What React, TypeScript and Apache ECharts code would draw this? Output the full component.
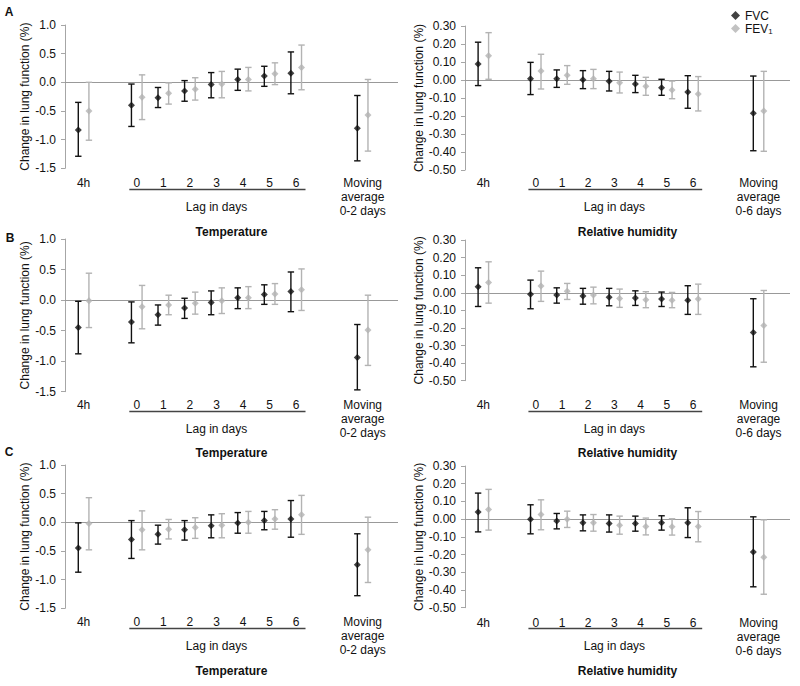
import React, { useEffect, useRef } from "react";
import * as echarts from "echarts";

// ---- Data ----
const X_POS = [-2, 0, 1, 2, 3, 4, 5, 6, 8.5];
const X_LABELS_TEMP = ["4h", "0", "1", "2", "3", "4", "5", "6", "Moving\naverage\n0-2 days"];
const X_LABELS_RH = ["4h", "0", "1", "2", "3", "4", "5", "6", "Moving\naverage\n0-6 days"];
const Y_TICKS_TEMP = [-1.5, -1.0, -0.5, 0.0, 0.5, 1.0];
const Y_TICKS_RH = [-0.5, -0.4, -0.3, -0.2, -0.1, 0.0, 0.1, 0.2, 0.3];

// Panel A – Temperature
const tA_fvc = [-0.83, -0.40, -0.27, -0.15, -0.04, 0.05, 0.11, 0.16, -0.80];
const tA_fvcLo = [-1.29, -0.77, -0.44, -0.33, -0.27, -0.14, -0.07, -0.20, -1.37];
const tA_fvcHi = [-0.35, -0.03, -0.09, 0.03, 0.17, 0.23, 0.28, 0.53, -0.23];
const tA_fev = [-0.50, -0.26, -0.19, -0.12, -0.03, 0.05, 0.15, 0.26, -0.57];
const tA_fevLo = [-1.01, -0.65, -0.38, -0.31, -0.27, -0.15, -0.04, -0.13, -1.20];
const tA_fevHi = [0.0, 0.13, -0.01, 0.08, 0.19, 0.26, 0.34, 0.65, 0.05];
// Panel A – Relative humidity
const hA_fvc = [0.089, 0.007, 0.007, 0.002, -0.007, -0.022, -0.043, -0.067, -0.185];
const hA_fvcLo = [-0.031, -0.081, -0.041, -0.048, -0.061, -0.070, -0.085, -0.157, -0.393];
const hA_fvcHi = [0.210, 0.098, 0.056, 0.052, 0.048, 0.026, 0.004, 0.024, 0.022];
const hA_fev = [0.135, 0.050, 0.026, 0.007, -0.015, -0.035, -0.056, -0.078, -0.172];
const hA_fevLo = [0.004, -0.050, -0.024, -0.048, -0.072, -0.085, -0.104, -0.172, -0.396];
const hA_fevHi = [0.263, 0.143, 0.080, 0.059, 0.044, 0.015, -0.006, 0.019, 0.048];
// Panel B – Temperature
const tB_fvc = [-0.45, -0.36, -0.24, -0.13, -0.04, 0.04, 0.09, 0.14, -0.94];
const tB_fvcLo = [-0.88, -0.70, -0.41, -0.30, -0.24, -0.14, -0.07, -0.19, -1.47];
const tB_fvcHi = [-0.02, -0.03, -0.08, 0.03, 0.15, 0.20, 0.25, 0.46, -0.40];
const tB_fev = [-0.01, -0.11, -0.08, -0.05, -0.01, 0.04, 0.10, 0.17, -0.49];
const tB_fevLo = [-0.45, -0.47, -0.24, -0.23, -0.22, -0.14, -0.07, -0.17, -1.07];
const tB_fevHi = [0.44, 0.24, 0.08, 0.13, 0.20, 0.22, 0.27, 0.51, 0.08];
// Panel B – Relative humidity
const hB_fvc = [0.034, -0.009, -0.013, -0.019, -0.025, -0.030, -0.036, -0.042, -0.226];
const hB_fvcLo = [-0.078, -0.091, -0.059, -0.065, -0.074, -0.072, -0.078, -0.123, -0.421];
const hB_fvcHi = [0.142, 0.072, 0.028, 0.025, 0.025, 0.011, 0.004, 0.040, -0.034];
const hB_fev = [0.059, 0.038, 0.008, -0.013, -0.032, -0.040, -0.042, -0.036, -0.186];
const hB_fevLo = [-0.059, -0.049, -0.038, -0.063, -0.083, -0.085, -0.085, -0.123, -0.395];
const hB_fevHi = [0.176, 0.123, 0.053, 0.032, 0.021, 0.006, 0.002, 0.049, 0.013];
// Panel C – Temperature
const tC_fvc = [-0.45, -0.30, -0.21, -0.13, -0.06, -0.01, 0.03, 0.06, -0.74];
const tC_fvcLo = [-0.87, -0.63, -0.38, -0.31, -0.27, -0.19, -0.13, -0.26, -1.28];
const tC_fvcHi = [-0.01, 0.03, -0.05, 0.03, 0.13, 0.17, 0.19, 0.38, -0.20];
const tC_fev = [-0.02, -0.13, -0.12, -0.09, -0.05, 0.00, 0.06, 0.13, -0.48];
const tC_fevLo = [-0.48, -0.48, -0.29, -0.28, -0.27, -0.19, -0.12, -0.21, -1.05];
const tC_fevHi = [0.43, 0.20, 0.05, 0.08, 0.15, 0.19, 0.22, 0.47, 0.09];
// Panel C – Relative humidity
const hC_fvc = [0.040, 0.000, -0.011, -0.021, -0.024, -0.024, -0.021, -0.021, -0.185];
const hC_fvcLo = [-0.072, -0.083, -0.055, -0.066, -0.073, -0.068, -0.062, -0.104, -0.382];
const hC_fvcHi = [0.147, 0.081, 0.032, 0.024, 0.024, 0.017, 0.019, 0.064, 0.013];
const hC_fev = [0.055, 0.026, 0.000, -0.021, -0.034, -0.041, -0.043, -0.041, -0.215];
const hC_fevLo = [-0.062, -0.060, -0.047, -0.068, -0.085, -0.089, -0.090, -0.128, -0.424];
const hC_fevHi = [0.168, 0.109, 0.045, 0.026, 0.017, 0.006, 0.002, 0.043, -0.004];

const PANEL_LETTERS = ["A", "B", "C"];
const TITLE_TEMP = "Temperature";
const TITLE_RH = "Relative humidity";
const LAG_TEXT = "Lag in days";
const Y_NAME = "Change in lung function (%)";

// ---- Layout ----
const FONT = "'Liberation Sans', Arial, sans-serif";
const FVC_COLOR = "#111111";
const FEV_COLOR = "#b3b3b3";
const AXIS_COLOR = "#a6a6a6";

type Panel = {
  kind: "temp" | "rh";
  fvc: number[]; fvcLo: number[]; fvcHi: number[];
  fev: number[]; fevLo: number[]; fevHi: number[];
  left: number; top: number; width: number; height: number;
  labelMargin: number; labelCenterY: number; titleY: number;
};

const PANELS: Panel[] = [
  { kind: "temp", fvc: tA_fvc, fvcLo: tA_fvcLo, fvcHi: tA_fvcHi, fev: tA_fev, fevLo: tA_fevLo, fevHi: tA_fevHi,
    left: 65, top: 25, width: 333, height: 143.3, labelMargin: 8, labelCenterY: 183, titleY: 232 },
  { kind: "rh", fvc: hA_fvc, fvcLo: hA_fvcLo, fvcHi: hA_fvcHi, fev: hA_fev, fevLo: hA_fevLo, fevHi: hA_fevHi,
    left: 465, top: 26, width: 325, height: 144, labelMargin: 6, labelCenterY: 183, titleY: 232 },
  { kind: "temp", fvc: tB_fvc, fvcLo: tB_fvcLo, fvcHi: tB_fvcHi, fev: tB_fev, fevLo: tB_fevLo, fevHi: tB_fevHi,
    left: 65, top: 239, width: 333, height: 152.7, labelMargin: 6, labelCenterY: 405, titleY: 453 },
  { kind: "rh", fvc: hB_fvc, fvcLo: hB_fvcLo, fvcHi: hB_fvcHi, fev: hB_fev, fevLo: hB_fevLo, fevHi: hB_fevHi,
    left: 465, top: 240, width: 325, height: 140.7, labelMargin: 17, labelCenterY: 405, titleY: 453 },
  { kind: "temp", fvc: tC_fvc, fvcLo: tC_fvcLo, fvcHi: tC_fvcHi, fev: tC_fev, fevLo: tC_fevLo, fevHi: tC_fevHi,
    left: 65, top: 465, width: 333, height: 143.3, labelMargin: 7, labelCenterY: 622, titleY: 671 },
  { kind: "rh", fvc: hC_fvc, fvcLo: hC_fvcLo, fvcHi: hC_fvcHi, fev: hC_fev, fevLo: hC_fevLo, fevHi: hC_fevHi,
    left: 465, top: 466, width: 325, height: 141.7, labelMargin: 8, labelCenterY: 622, titleY: 671 },
];

const LETTER_POS = [[9, 12], [10, 238], [9, 452]];
const OFFSET = 0.2;

function errorBarSeries(name: string, data: number[][], color: string, gi: number) {
  return {
    type: "custom",
    name,
    xAxisIndex: gi,
    yAxisIndex: gi,
    coordinateSystem: "cartesian2d",
    encode: { x: 0, y: [1, 2] },
    data,
    silent: true,
    z: 2,
    renderItem: (params: any, api: any) => {
      const x = api.value(0);
      const lo = api.coord([x, api.value(1)]);
      const hi = api.coord([x, api.value(2)]);
      const cw = 3.2;
      const style = { stroke: color, lineWidth: 1.4, fill: "none" };
      return {
        type: "group",
        children: [
          { type: "line", shape: { x1: lo[0], y1: lo[1], x2: hi[0], y2: hi[1] }, style },
          { type: "line", shape: { x1: lo[0] - cw, y1: lo[1], x2: lo[0] + cw, y2: lo[1] }, style },
          { type: "line", shape: { x1: hi[0] - cw, y1: hi[1], x2: hi[0] + cw, y2: hi[1] }, style },
        ],
      };
    },
  };
}

export default function App() {
  const ref = useRef<HTMLDivElement>(null);

  useEffect(() => {
    if (!ref.current) return;
    const chart = echarts.init(ref.current, undefined, { renderer: "svg" });

    const grids: any[] = [];
    const xAxes: any[] = [];
    const yAxes: any[] = [];
    const series: any[] = [];

    PANELS.forEach((p, gi) => {
      const isT = p.kind === "temp";
      const labels = isT ? X_LABELS_TEMP : X_LABELS_RH;
      grids.push({ left: p.left, top: p.top, width: p.width, height: p.height, containLabel: false });
      const xMin = -2.7;
      const xMax = isT ? 9.83 : 9.7;
      xAxes.push({
        type: "value",
        gridIndex: gi,
        min: xMin,
        max: xMax,
        axisLine: { show: false, onZero: false },
        axisTick: { show: false },
        splitLine: { show: false },
        axisLabel: {
          customValues: X_POS,
          margin: p.labelMargin,
          fontFamily: FONT,
          fontSize: 12,
          lineHeight: 14,
          color: "#111",
          align: "center",
          formatter: (v: number) => {
            const i = X_POS.findIndex((q) => Math.abs(q - v) < 1e-6);
            return i >= 0 ? labels[i] : "";
          },
        },
      });
      yAxes.push({
        type: "value",
        gridIndex: gi,
        min: isT ? -1.5 : -0.5,
        max: isT ? 1.0 : 0.3,
        interval: isT ? 0.5 : 0.1,
        name: Y_NAME,
        nameLocation: "middle",
        nameGap: isT ? 33 : 40,
        nameTextStyle: { fontFamily: FONT, fontSize: 12, color: "#111" },
        axisLine: { show: true, onZero: false, lineStyle: { color: AXIS_COLOR, width: 1 } },
        axisTick: { show: true, length: 4, lineStyle: { color: AXIS_COLOR } },
        splitLine: { show: false },
        axisLabel: {
          margin: 9,
          fontFamily: FONT,
          fontSize: 12,
          color: "#111",
          customValues: isT ? Y_TICKS_TEMP : Y_TICKS_RH,
          formatter: (v: number) => v.toFixed(isT ? 1 : 2),
        },
      });

      const fvcBars = X_POS.map((x, i) => [x - OFFSET, p.fvcLo[i], p.fvcHi[i]]);
      const fevBars = X_POS.map((x, i) => [x + OFFSET, p.fevLo[i], p.fevHi[i]]);
      series.push(errorBarSeries("FEV1 CI", fevBars, FEV_COLOR, gi));
      series.push(errorBarSeries("FVC CI", fvcBars, FVC_COLOR, gi));
      series.push({
        type: "scatter",
        name: "FEV1",
        xAxisIndex: gi,
        yAxisIndex: gi,
        symbol: "diamond",
        symbolSize: 7,
        itemStyle: { color: FEV_COLOR },
        data: X_POS.map((x, i) => [x + OFFSET, p.fev[i]]),
        z: 3,
        markLine: {
          silent: true,
          symbol: "none",
          label: { show: false },
          lineStyle: { color: "#999999", type: "solid", width: 1 },
          data: [{ yAxis: 0 }],
          z: 1,
        },
      });
      series.push({
        type: "scatter",
        name: "FVC",
        xAxisIndex: gi,
        yAxisIndex: gi,
        symbol: "diamond",
        symbolSize: 7,
        itemStyle: { color: FVC_COLOR },
        data: X_POS.map((x, i) => [x - OFFSET, p.fvc[i]]),
        z: 4,
      });
    });

    chart.setOption({
      animation: false,
      backgroundColor: "#ffffff",
      textStyle: { fontFamily: FONT },
      grid: grids,
      xAxis: xAxes,
      yAxis: yAxes,
      series,
      legend: {
        orient: "vertical",
        left: 726,
        top: 4,
        itemWidth: 9,
        itemHeight: 9,
        itemGap: 0,
        data: ["FVC", "FEV1"],
        selectedMode: false,
        textStyle: {
          fontFamily: FONT,
          fontSize: 12,
          lineHeight: 13,
          color: "#111",
          rich: {
            a: { fontFamily: FONT, fontSize: 12, lineHeight: 13, color: "#111" },
            s: { fontFamily: FONT, fontSize: 8, lineHeight: 13, color: "#111", padding: [5, 0, 0, 0] },
          },
        },
        formatter: (n: string) => (n === "FEV1" ? "{a|FEV}{s|1}" : n),
      },
    });

    // Decorations positioned via the axes' scales
    const graphics: any[] = [];
    PANELS.forEach((p, gi) => {
      const isT = p.kind === "temp";
      const a = chart.convertToPixel({ gridIndex: gi } as any, [-0.28, 0]) as number[];
      const b = chart.convertToPixel({ gridIndex: gi } as any, [6.35, 0]) as number[];
      const c = chart.convertToPixel({ gridIndex: gi } as any, [3, 0]) as number[];
      const uy = p.labelCenterY + 6.5;
      graphics.push({
        type: "line",
        shape: { x1: a[0], y1: uy, x2: b[0], y2: uy },
        style: { stroke: "#444", lineWidth: 1.4 },
      });
      graphics.push({
        type: "text",
        x: c[0],
        y: p.labelCenterY + 24,
        style: { text: LAG_TEXT, font: `12px ${FONT}`, fill: "#111", align: "center", verticalAlign: "middle" },
      });
      graphics.push({
        type: "text",
        x: p.left + p.width / 2,
        y: p.titleY,
        style: {
          text: isT ? TITLE_TEMP : TITLE_RH,
          font: `bold 12px ${FONT}`,
          fill: "#111",
          align: "center",
          verticalAlign: "middle",
        },
      });
    });
    PANEL_LETTERS.forEach((l, i) => {
      graphics.push({
        type: "text",
        x: LETTER_POS[i][0],
        y: LETTER_POS[i][1],
        style: { text: l, font: `bold 12px ${FONT}`, fill: "#111", align: "center", verticalAlign: "middle" },
      });
    });
    chart.setOption({ graphic: graphics });

    return () => chart.dispose();
  }, []);

  return (
    <div
      ref={ref}
      style={{ position: "fixed", left: 0, top: 0, width: 800, height: 686, background: "#fff" }}
    />
  );
}
